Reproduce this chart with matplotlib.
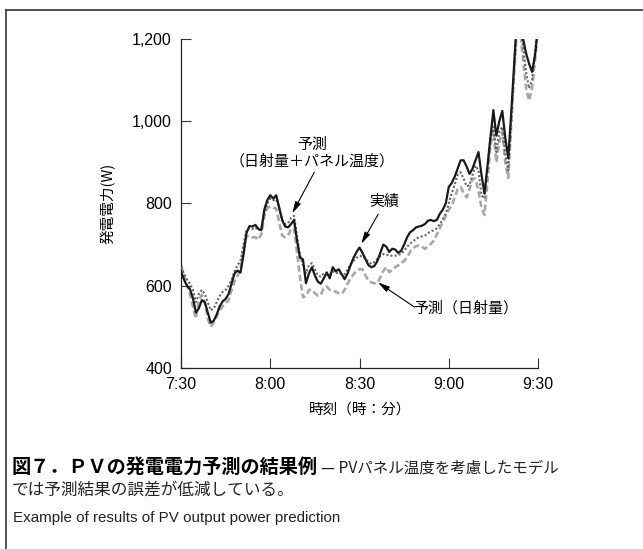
import matplotlib
matplotlib.use('Agg')
import matplotlib.pyplot as plt
from matplotlib.lines import Line2D

plt.rcParams['font.family'] = ['Noto Sans CJK JP', 'DejaVu Sans']

# minutes after 7:30
minutes = list(range(0, 121))

actual = [635, 615, 600, 592, 570, 535, 545, 565, 560, 535,
          510, 515, 530, 550, 562, 568, 580, 605, 630, 637,
          632, 675, 728, 745, 744, 748, 738, 735, 785, 808,
          820, 812, 820, 790, 760, 744, 742, 750, 760, 710,
          668, 664, 606, 630, 645, 625, 610, 605, 618, 632,
          618, 645, 635, 640, 628, 616, 630, 650, 668, 682,
          693, 680, 665, 650, 645, 648, 660, 680, 700, 695,
          682, 690, 688, 680, 685, 700, 718, 730, 735, 742,
          744, 746, 750, 758, 760, 757, 760, 775, 785, 800,
          840, 850, 865, 885, 905, 905, 890, 872, 885, 905,
          925, 870, 824, 890, 960, 1027, 965, 1000, 1025, 960,
          910, 1020, 1140, 1260, 1260, 1200, 1165, 1140, 1120, 1160,
          1230]

pred_temp = [645, 630, 615, 605, 590, 560, 580, 590, 580, 560,
             540, 545, 560, 575, 585, 590, 600, 615, 635, 650,
             660, 700, 735, 740, 738, 742, 735, 740, 775, 800,
             812, 808, 810, 790, 760, 750, 752, 765, 770, 720,
             675, 650, 630, 650, 655, 640, 625, 622, 630, 632,
             628, 635, 630, 632, 628, 628, 640, 652, 660, 668,
             672, 672, 665, 658, 653, 658, 665, 672, 677, 676,
             673, 673, 673, 675, 677, 685, 695, 702, 708, 714,
             718, 720, 722, 728, 732, 735, 740, 750, 762, 775,
             800, 825, 845, 870, 876, 860, 842, 845, 870, 892,
             880, 820, 812, 880, 960, 986, 925, 975, 986, 920,
             880, 1000, 1130, 1250, 1240, 1180, 1120, 1080, 1100, 1170,
             1230]

pred_irr = [650, 625, 600, 580, 550, 520, 565, 578, 560, 520,
            500, 510, 525, 540, 550, 558, 565, 590, 610, 624,
            640, 690, 720, 722, 718, 718, 712, 725, 770, 790,
            792, 790, 788, 755, 722, 718, 722, 738, 740, 680,
            620, 572, 575, 590, 590, 582, 576, 578, 595, 598,
            590, 588, 586, 582, 580, 590, 605, 618, 628, 636,
            640, 640, 625, 612, 608, 606, 607, 620, 636, 645,
            633, 638, 645, 650, 656, 660, 670, 682, 692, 696,
            698, 695, 690, 695, 702, 710, 725, 740, 755, 770,
            785, 795, 815, 835, 840, 825, 815, 835, 860, 860,
            830, 790, 772, 850, 940, 978, 900, 950, 974, 900,
            862, 990, 1120, 1240, 1220, 1150, 1080, 1050, 1080, 1150,
            1220]

x_ticks = [0, 30, 60, 90, 120]
x_tick_labels = ['7:30', '8:00', '8:30', '9:00', '9:30']
y_ticks = [400, 600, 800, 1000, 1200]
y_tick_labels = ['400', '600', '800', '1,000', '1,200']

fig = plt.figure(figsize=(6.43, 5.49), dpi=100)
ax = fig.add_axes([0.2815, 0.3297, 0.5552, 0.5993])

ax.plot(minutes, pred_irr, color='#a8a8a8', lw=1.9, dashes=(2.4, 1.2), zorder=2)
ax.plot(minutes, pred_temp, color='#666666', lw=1.5, dashes=(1.0, 1.0), zorder=3)
ax.plot(minutes, actual, color='#1a1a1a', lw=1.6, zorder=4)

ax.set_xlim(0, 120)
ax.set_ylim(400, 1200)
ax.set_xticks(x_ticks)
ax.set_xticklabels(x_tick_labels, fontfamily='Liberation Sans', fontsize=11.5)
ax.set_yticks(y_ticks)
ax.set_yticklabels(y_tick_labels, fontfamily='Liberation Sans', fontsize=11.5)
ax.tick_params(direction='in', length=7, width=0.8, color='#333333', pad=6.5)
for s in ['top', 'right']:
    ax.spines[s].set_visible(False)
for s in ['left', 'bottom']:
    ax.spines[s].set_linewidth(0.9)
    ax.spines[s].set_color('#222222')

# callouts
arrow = dict(arrowstyle='-|>,head_length=0.7,head_width=0.18', color='black',
             lw=0.8, shrinkA=0, shrinkB=0)
ax.annotate('', xy=(37.4, 776), xytext=(44.8, 876), arrowprops=arrow)
ax.text(44.2, 922, '予測\n（日射量＋パネル温度）', ha='center', va='center',
        fontsize=10.8, linespacing=1.25)
ax.annotate('', xy=(60.6, 702), xytext=(66.3, 774), arrowprops=arrow)
ax.text(68.4, 805, '実績', ha='center', va='center', fontsize=10.8)
ax.annotate('', xy=(66.2, 608), xytext=(78.5, 548), arrowprops=arrow)
ax.text(95.7, 546, '予測（日射量）', ha='center', va='center', fontsize=10.8)

fig.text(108 / 643, 1 - 203.5 / 549, '発電電力(W)', rotation=90,
         ha='center', va='center', fontsize=10.5)
fig.text(360 / 643, 1 - 410 / 549, '時刻（時：分）', ha='center', va='center',
         fontsize=10.5)

# caption
t1 = fig.text(12 / 643, 1 - 477 / 549, '図７．ＰＶの発電電力予測の結果例',
              ha='left', va='bottom', fontsize=13.8, fontweight='bold')
ax.annotate('— PVパネル温度を考慮したモデル', xy=(1, 0), xycoords=t1,
            xytext=(2, 0), textcoords='offset points', ha='left', va='bottom',
            fontsize=11.2, color='#222222', annotation_clip=False)
fig.text(12 / 643, 1 - 490 / 549, 'では予測結果の誤差が低減している。',
         ha='left', va='center', fontsize=12, color='#222222')
fig.text(13 / 643, 1 - 518 / 549, 'Example of results of PV output power prediction',
         ha='left', va='center', fontsize=10.9, color='#222222',
         fontfamily='Liberation Sans')

# frame lines
fig.add_artist(Line2D([6 / 643, 6 / 643], [0, 1 - 9.5 / 549], color='#333333',
                      lw=1.2, transform=fig.transFigure))
fig.add_artist(Line2D([6 / 643, 1], [1 - 9.5 / 549, 1 - 9.5 / 549], color='#333333',
                      lw=1.2, transform=fig.transFigure))

fig.savefig('out.png', dpi=100)
